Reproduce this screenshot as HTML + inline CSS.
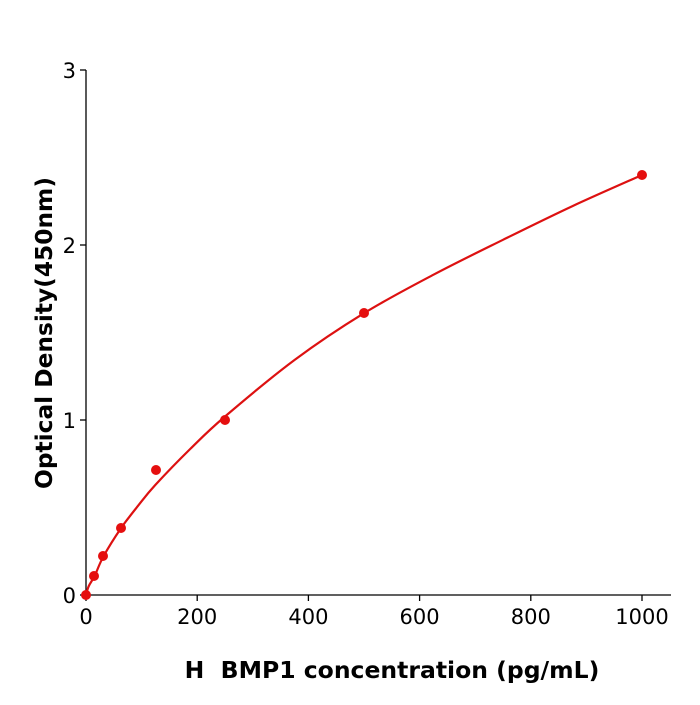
<!DOCTYPE html>
<html><head><meta charset="utf-8"><style>body{margin:0;background:#fff}</style></head>
<body>
<svg width="700" height="700" xmlns="http://www.w3.org/2000/svg" font-family="DejaVu Sans, Liberation Sans, sans-serif">
<g stroke="#000" stroke-width="1.3" fill="none">
<line x1="86" y1="70" x2="86" y2="595"/>
<line x1="86" y1="595" x2="671" y2="595"/>
<line x1="80" y1="595" x2="86" y2="595"/>
<line x1="80" y1="420" x2="86" y2="420"/>
<line x1="80" y1="245" x2="86" y2="245"/>
<line x1="80" y1="70" x2="86" y2="70"/>
<line x1="86" y1="595" x2="86" y2="601"/>
<line x1="197.2" y1="595" x2="197.2" y2="601"/>
<line x1="308.4" y1="595" x2="308.4" y2="601"/>
<line x1="419.6" y1="595" x2="419.6" y2="601"/>
<line x1="530.8" y1="595" x2="530.8" y2="601"/>
<line x1="642" y1="595" x2="642" y2="601"/>
</g>
<g font-size="21" text-anchor="end" fill="#000">
<text x="76" y="603">0</text><text x="76" y="428">1</text><text x="76" y="253">2</text><text x="76" y="78">3</text>
</g>
<g font-size="21" text-anchor="middle" fill="#000">
<text x="86" y="624">0</text><text x="197.2" y="624">200</text><text x="308.4" y="624">400</text><text x="419.6" y="624">600</text><text x="530.8" y="624">800</text><text x="642" y="624">1000</text>
</g>
<text x="392" y="678" font-size="23.5" font-weight="bold" text-anchor="middle">H&#160; BMP1 concentration (pg/mL)</text>
<text transform="translate(52,333) rotate(-90)" font-size="23.3" font-weight="bold" text-anchor="middle">Optical Density(450nm)</text>
<polyline id="crv" fill="none" stroke="#dd1111" stroke-width="2.2" stroke-linejoin="round" points="86,595 88.8,586 94.7,575.8 103.4,556.5 120.8,528.5 138.1,505.7 155.5,484.8 190.3,448.9 225,416.5 294.5,360 364,313.2 433.5,274.7 503,239.8 572.5,206.1 642,175"/>
<path id="crv2" fill="none" stroke="#dd1111" stroke-width="2.2" d=""/>
<g fill="#e50f0f">
<circle cx="86" cy="595" r="5"/><circle cx="94" cy="576" r="5"/><circle cx="103" cy="556" r="5"/><circle cx="121" cy="528" r="5"/><circle cx="156" cy="470" r="5"/><circle cx="225" cy="420" r="5"/><circle cx="364" cy="313" r="5"/><circle cx="642" cy="175" r="5"/>
</g>
</svg>
<script>
(function(){
var p=[[86,595],[88.8,586],[94.7,575.8],[103.4,556.5],[120.8,528.5],[138.1,505.7],[155.5,484.8],[190.3,448.9],[225,416.5],[294.5,360],[364,313.2],[433.5,274.7],[503,239.8],[572.5,206.1],[642,175]];
var d="M"+p[0][0]+","+p[0][1];
for(var i=0;i<p.length-1;i++){
var a=p[i-1]||p[i],b=p[i],c=p[i+1],e=p[i+2]||c;
var c1x=b[0]+(c[0]-a[0])/6,c1y=b[1]+(c[1]-a[1])/6,c2x=c[0]-(e[0]-b[0])/6,c2y=c[1]-(e[1]-b[1])/6;
d+=" C"+c1x+","+c1y+" "+c2x+","+c2y+" "+c[0]+","+c[1];}
document.getElementById("crv2").setAttribute("d",d);
document.getElementById("crv").setAttribute("stroke","none");
})();
</script>
</body></html>
